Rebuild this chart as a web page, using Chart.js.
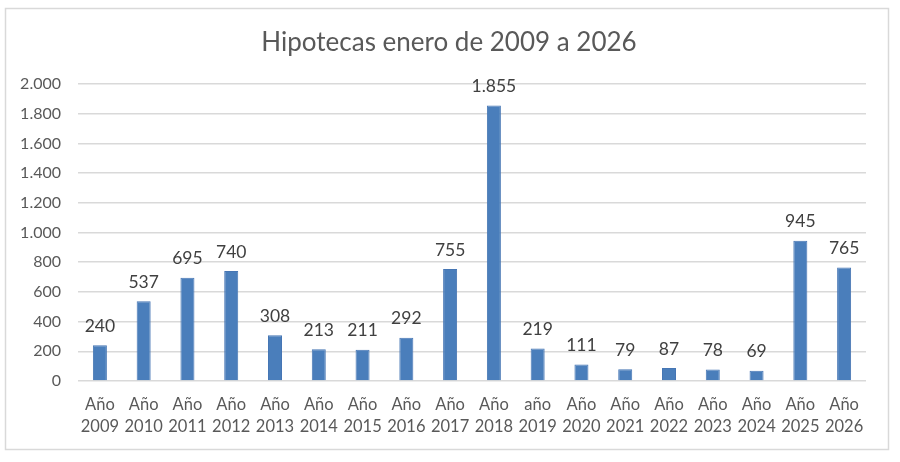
<!DOCTYPE html>
<html>
<head>
<meta charset="utf-8">
<script src="https://cdn.jsdelivr.net/npm/chart.js@4.4.1/dist/chart.umd.min.js"></script>
<style>
html,body{margin:0;padding:0;background:#fff;}
#wrap{width:900px;height:462px;position:relative;}
</style>
</head>
<body>
<div id="wrap"><canvas id="c" width="900" height="462"></canvas></div>
<script>
const categories = [
  ['Año','2009'],['Año','2010'],['Año','2011'],['Año','2012'],['Año','2013'],['Año','2014'],
  ['Año','2015'],['Año','2016'],['Año','2017'],['Año','2018'],['año','2019'],['Año','2020'],
  ['Año','2021'],['Año','2022'],['Año','2023'],['Año','2024'],['Año','2025'],['Año','2026']
];
const hipotecas = [240,537,695,740,308,213,211,292,755,1855,219,111,79,87,78,69,945,765];
const titleText = 'Hipotecas enero de 2009 a 2026';

function fmt(v){
  return String(Math.round(v)).replace(/\B(?=(\d{3})+(?!\d))/g, '.');
}

const FONT = 'Lato, "Open Sans", sans-serif';
const TXT = '#595959';

const framePlugin = {
  id: 'frame',
  beforeDraw(chart){
    const ctx = chart.ctx;
    ctx.save();
    ctx.fillStyle = '#fff';
    ctx.fillRect(0,0,chart.width,chart.height);
    ctx.strokeStyle = '#d9d9d9';
    ctx.lineWidth = 1.5;
    ctx.strokeRect(5.5, 8.5, 883, 441);
    ctx.font = '26px ' + FONT;
    ctx.fillStyle = TXT;
    ctx.textAlign = 'center';
    ctx.textBaseline = 'middle';
    ctx.fillText(titleText, 449, 43);
    ctx.restore();
  }
};

const labelPlugin = {
  id: 'barLabels',
  afterDatasetsDraw(chart){
    const ctx = chart.ctx;
    const meta = chart.getDatasetMeta(0);
    ctx.save();
    ctx.font = '17.5px ' + FONT;
    ctx.fillStyle = '#404040';
    ctx.textAlign = 'center';
    ctx.textBaseline = 'middle';
    meta.data.forEach((bar, i) => {
      ctx.fillText(fmt(hipotecas[i]), bar.x, bar.y - 19);
    });
    ctx.restore();
  }
};

new Chart(document.getElementById('c'), {
  type: 'bar',
  data: {
    labels: categories,
    datasets: [{
      data: hipotecas,
      backgroundColor: '#4A7EBB',
      borderColor: '#4676B4',
      borderWidth: 1,
      barPercentage: 0.32,
      categoryPercentage: 1
    }]
  },
  options: {
    responsive: false,
    animation: false,
    devicePixelRatio: 1,
    layout: { padding: { left: 0, right: 34, top: 84, bottom: 0 } },
    plugins: {
      legend: { display: false },
      tooltip: { enabled: false },
      title: { display: false }
    },
    scales: {
      x: {
        grid: { display: false, drawTicks: false },
        border: { display: false },
        ticks: {
          color: TXT,
          font: { family: FONT, size: 16.5, lineHeight: 1.3 },
          padding: 13,
          maxRotation: 0,
          autoSkip: false
        },
        afterFit(scale){ scale.height = 81; }
      },
      y: {
        min: 0,
        max: 2000,
        grid: { color: '#d9d9d9', lineWidth: 1.5, drawTicks: false },
        border: { display: false },
        ticks: {
          stepSize: 200,
          color: TXT,
          font: { family: FONT, size: 16 },
          padding: 17,
          callback: (v) => fmt(v)
        },
        afterFit(scale){ scale.width = 78; }
      }
    }
  },
  plugins: [framePlugin, labelPlugin]
});
</script>
</body>
</html>
